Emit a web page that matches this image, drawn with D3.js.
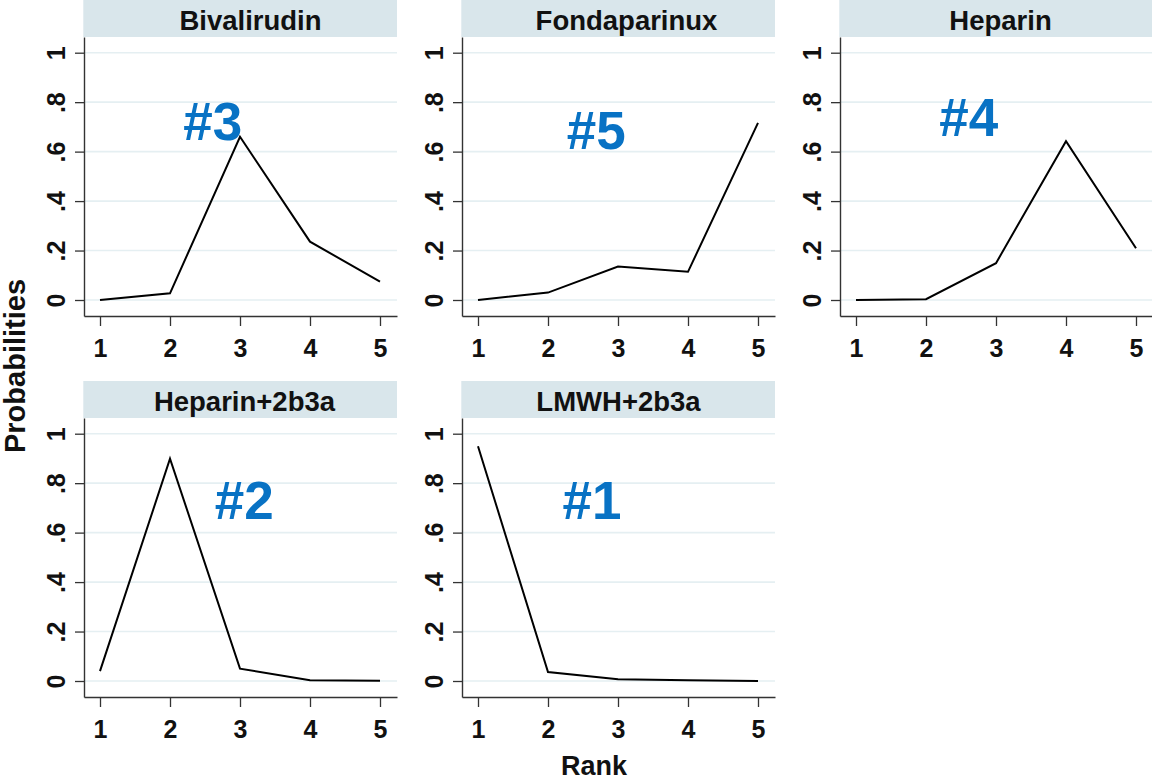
<!DOCTYPE html>
<html>
<head>
<meta charset="utf-8">
<script src="https://cdn.jsdelivr.net/npm/d3@7"></script>
<style>
  html, body { margin: 0; padding: 0; background: #ffffff; }
  svg { display: block; font-family: "Liberation Sans", Arial, Helvetica, sans-serif; }
</style>
</head>
<body>
<svg id="chart" width="1152" height="780"></svg>
<script>
// Rank probabilities per treatment (ranks 1..5)
const ranks = [1, 2, 3, 4, 5];
const treatments = ["Bivalirudin", "Fondaparinux", "Heparin", "Heparin+2b3a", "LMWH+2b3a"];
const bivalirudin  = [0.000, 0.027, 0.660, 0.236, 0.074];
const fondaparinux = [0.000, 0.030, 0.135, 0.114, 0.716];
const heparin      = [0.000, 0.003, 0.149, 0.642, 0.209];
const heparin2b3a  = [0.040, 0.899, 0.050, 0.003, 0.001];
const lmwh2b3a     = [0.949, 0.036, 0.007, 0.003, 0.000];
const probabilities = [bivalirudin, fondaparinux, heparin, heparin2b3a, lmwh2b3a];

// Overall ranking callout for each treatment and where it sits (rank, probability)
const rankCallouts = ["#3", "#5", "#4", "#2", "#1"];
const calloutRank = [2.61, 2.69, 2.61, 3.06, 2.63];
const calloutProb = [0.647, 0.609, 0.663, 0.655, 0.655];

// Axis ticks
const yTicks = [0, 0.2, 0.4, 0.6, 0.8, 1];
const yTickLabels = ["0", ".2", ".4", ".6", ".8", "1"];
const xTickLabels = ["1", "2", "3", "4", "5"];

// Layout
const colLeft = [84, 462, 840];
const rowTop = [0, 381];
const panelW = 313;
const headerH = 37;
const plotH = 279;
const titleDx = [10, 8, 4, 4, 0];

const svg = d3.select("#chart");

const x = d3.scaleLinear().domain([0.7714, 5.2429]).range([0, panelW]);
const y = d3.scaleLinear().domain([-0.0647, 1.0635]).range([plotH, 0]);

const line = d3.line()
  .x((d, i) => x(ranks[i]))
  .y(d => y(d));

treatments.forEach((name, k) => {
  const col = k % 3, row = Math.floor(k / 3);
  const g = svg.append("g").attr("transform", `translate(${colLeft[col]},${rowTop[row]})`);

  // strip header
  g.append("rect")
    .attr("x", -0.7).attr("y", 0)
    .attr("width", panelW + 0.7).attr("height", headerH)
    .attr("fill", "#d9e6eb");
  g.append("text")
    .attr("x", panelW / 2 + titleDx[k]).attr("y", 29.5)
    .attr("text-anchor", "middle")
    .attr("font-size", 27.5).attr("font-weight", "bold")
    .attr("fill", "#111")
    .text(name);

  const p = g.append("g").attr("transform", `translate(0,${headerH})`);

  // horizontal grid
  p.append("g").selectAll("line").data(yTicks).join("line")
    .attr("x1", 1).attr("x2", panelW)
    .attr("y1", d => y(d)).attr("y2", d => y(d))
    .attr("stroke", "#e5eff2").attr("stroke-width", 1.6);

  // y axis
  const ya = p.append("g").call(
    d3.axisLeft(y).tickValues(yTicks).tickSize(9).tickSizeOuter(0)
      .tickFormat((d, i) => yTickLabels[i])
  );
  ya.select(".domain").attr("stroke", "#333").attr("stroke-width", 1.4);
  ya.selectAll(".tick line").attr("stroke", "#333").attr("stroke-width", 1.3);
  ya.selectAll(".tick text")
    .attr("transform", "rotate(-90)")
    .attr("x", 0).attr("y", -19).attr("dy", 0)
    .attr("text-anchor", "middle")
    .attr("font-size", 25).attr("font-weight", "bold")
    .attr("font-family", "Liberation Sans, Arial, sans-serif")
    .attr("fill", "#111");

  // x axis
  const xa = p.append("g").attr("transform", `translate(0,${plotH})`).call(
    d3.axisBottom(x).tickValues(ranks).tickSize(10).tickSizeOuter(0)
      .tickFormat((d, i) => xTickLabels[i])
  );
  xa.select(".domain").attr("stroke", "#333").attr("stroke-width", 1.4);
  xa.selectAll(".tick line").attr("stroke", "#333").attr("stroke-width", 1.3);
  xa.selectAll(".tick text")
    .attr("y", 41).attr("dy", 0)
    .attr("font-size", 25).attr("font-weight", "bold")
    .attr("font-family", "Liberation Sans, Arial, sans-serif")
    .attr("fill", "#111");

  // probability curve
  p.append("path")
    .datum(probabilities[k])
    .attr("d", line)
    .attr("fill", "none")
    .attr("stroke", "#000")
    .attr("stroke-width", 2)
    .attr("stroke-linejoin", "miter");

  // ranking callout
  p.append("text")
    .attr("x", x(calloutRank[k])).attr("y", y(calloutProb[k]))
    .attr("text-anchor", "middle")
    .attr("font-size", 53).attr("font-weight", "bold")
    .attr("fill", "#0872c4")
    .text(rankCallouts[k]);
});

// shared axis titles
svg.append("text")
  .attr("transform", "translate(25,366) rotate(-90)")
  .attr("text-anchor", "middle")
  .attr("font-size", 29).attr("font-weight", "bold")
  .attr("fill", "#111")
  .text("Probabilities");

svg.append("text")
  .attr("x", 594).attr("y", 775)
  .attr("text-anchor", "middle")
  .attr("font-size", 27).attr("font-weight", "bold")
  .attr("fill", "#111")
  .text("Rank");
</script>
</body>
</html>
